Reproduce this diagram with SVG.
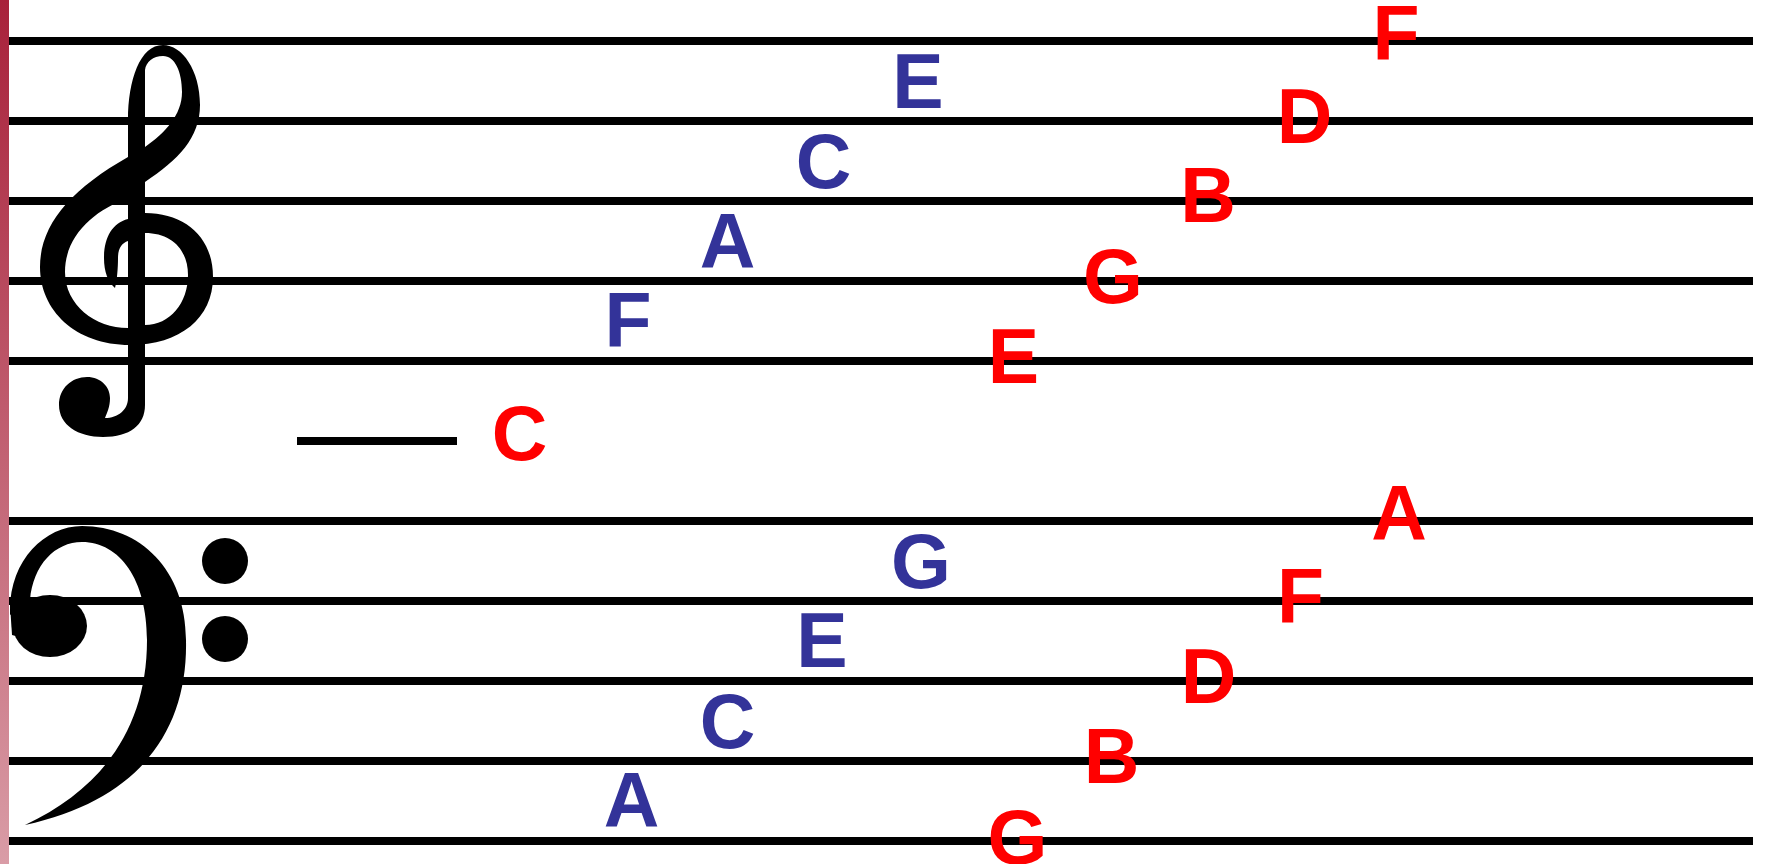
<svg xmlns="http://www.w3.org/2000/svg" width="1765" height="864" viewBox="0 0 1765 864">
<defs>
<linearGradient id="barGrad" x1="0" y1="0" x2="0" y2="1">
<stop offset="0" stop-color="#A8213A"/>
<stop offset="1" stop-color="#D99CA6"/>
</linearGradient>
</defs>
<style>
.staff line{stroke:#000;stroke-width:8}
.clef{fill:#000}
.note{font-family:"Liberation Sans",Arial,sans-serif;font-weight:bold;font-size:77px;text-anchor:middle}
.blue{fill:#333399}
.red{fill:#FF0000}
</style>
<rect id="side-bar" x="0" y="0" width="9" height="864" fill="url(#barGrad)"/>
<g id="treble-staff" class="staff">
<line x1="9" y1="41" x2="1753" y2="41"/>
<line x1="9" y1="121" x2="1753" y2="121"/>
<line x1="9" y1="201" x2="1753" y2="201"/>
<line x1="9" y1="281" x2="1753" y2="281"/>
<line x1="9" y1="361" x2="1753" y2="361"/>
</g>
<g id="bass-staff" class="staff">
<line x1="9" y1="521" x2="1753" y2="521"/>
<line x1="9" y1="601" x2="1753" y2="601"/>
<line x1="9" y1="681" x2="1753" y2="681"/>
<line x1="9" y1="761" x2="1753" y2="761"/>
<line x1="9" y1="841" x2="1753" y2="841"/>
</g>
<g id="ledger-line" class="staff">
<line x1="297" y1="441" x2="457" y2="441"/>
</g>
<g id="treble-clef" class="clef">
<path fill-rule="evenodd" d="M163,45 C182,45 200,70 200,105 C200,138 178,160 145,182 L145,213 C185,213 213,237 213,277 C213,318 180,345 130,345 C75,345 40,310 40,267 C40,225 70,190 128,157 L128,120 C128,80 140,45 163,45 Z M145,70 C146,62 153,56 163,56 C175,56 182,72 182,92 C182,115 165,133 145,147 Z M128,198 C95,210 65,235 65,272 C65,305 95,328 128,328 Z M145,233 C172,233 188,250 188,275 C188,303 170,325 145,325 Z"/>
<path d="M128,150 L145,150 L145,405 C145,425 130,437 103,437 C78,437 59,425 59,405 C59,388 72,377 87,377 C101,377 110,387 110,398 C110,407 107,413 105,418 C118,418 128,410 128,398 Z"/>
<path d="M128,219 C112,223 104,238 104,258 C104,272 108,282 115,288 C117,280 118,268 118,258 C118,248 122,243 128,241 Z"/>
</g>
<g id="bass-clef" class="clef">
<path d="M10,615 L10,610 C10,560 45,526 82,526 C140,526 186,570 186,640 C188,730 140,800 25,825 C100,790 147,730 147,640 C147,580 120,542 82,542 C55,542 33,565 30,600 Z"/>
<ellipse cx="50" cy="626" rx="37" ry="31"/>
<path d="M10,605 L30,600 L30,640 L12,635 Z"/>
<circle cx="225" cy="561" r="23"/>
<circle cx="225" cy="639" r="23"/>
</g>
<g id="treble-space-notes">
<text id="t-F" class="note blue" x="628" y="347">F</text>
<text id="t-A" class="note blue" x="727.5" y="268">A</text>
<text id="t-C" class="note blue" x="823.5" y="188">C</text>
<text id="t-E" class="note blue" x="918" y="108">E</text>
</g>
<g id="treble-line-notes">
<text id="t-C-ledger" class="note red" x="519.5" y="460">C</text>
<text id="t-E-line" class="note red" x="1013.5" y="383">E</text>
<text id="t-G-line" class="note red" x="1113" y="303">G</text>
<text id="t-B-line" class="note red" x="1208" y="222">B</text>
<text id="t-D-line" class="note red" x="1304.5" y="143">D</text>
<text id="t-F-line" class="note red" x="1396" y="60">F</text>
</g>
<g id="bass-space-notes">
<text id="b-A" class="note blue" x="631.5" y="827">A</text>
<text id="b-C" class="note blue" x="727.5" y="748">C</text>
<text id="b-E" class="note blue" x="822" y="667">E</text>
<text id="b-G" class="note blue" x="921" y="588">G</text>
</g>
<g id="bass-line-notes">
<text id="b-G-line" class="note red" x="1017.5" y="864">G</text>
<text id="b-B-line" class="note red" x="1111.5" y="783">B</text>
<text id="b-D-line" class="note red" x="1208.5" y="703">D</text>
<text id="b-F-line" class="note red" x="1300.5" y="623">F</text>
<text id="b-A-line" class="note red" x="1399" y="540">A</text>
</g>
</svg>
